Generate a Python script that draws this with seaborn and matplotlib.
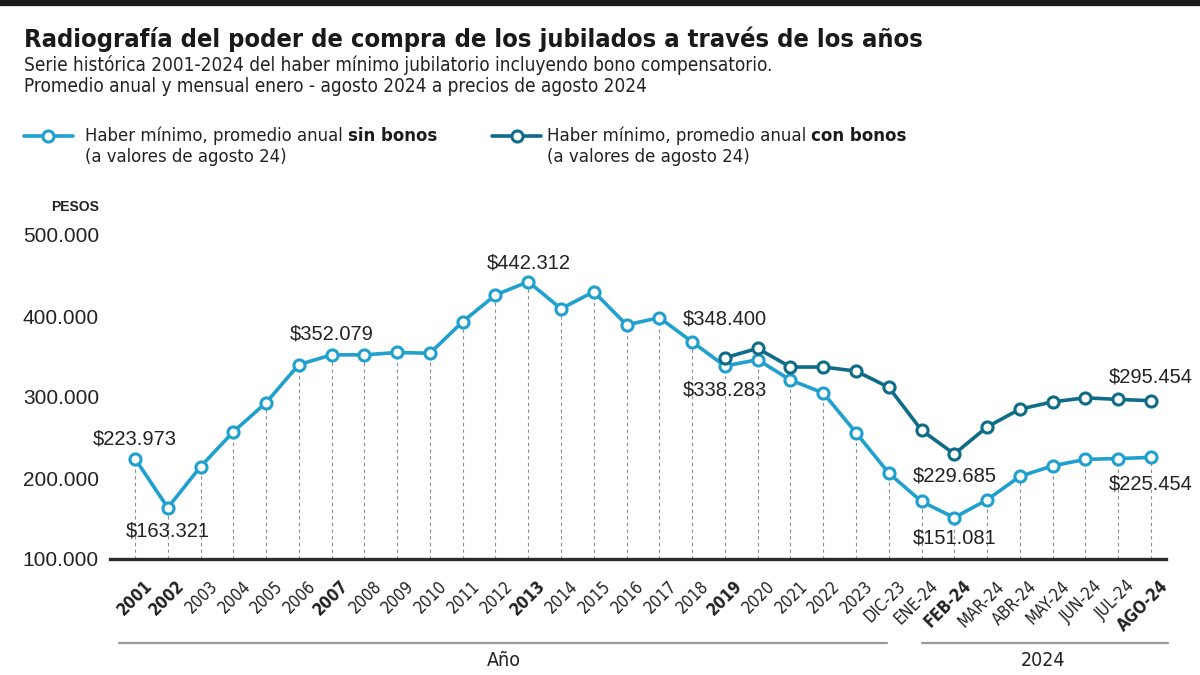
import numpy as np
import pandas as pd
import seaborn as sns
import matplotlib
matplotlib.use("Agg")
import matplotlib.pyplot as plt
from matplotlib import font_manager
from matplotlib.font_manager import FontProperties
from matplotlib.lines import Line2D
from matplotlib.transforms import ScaledTranslation

# datos
periodos = [str(a) for a in range(2001, 2024)] + ['DIC-23', 'ENE-24', 'FEB-24', 'MAR-24',
                                                  'ABR-24', 'MAY-24', 'JUN-24', 'JUL-24', 'AGO-24']
sin_bonos = [223973, 163321, 214000, 257000, 293000, 340000, 352079, 352000, 355000, 354000,
             393000, 426000, 442312, 409000, 430000, 389000, 398000, 368000, 338283, 346000,
             321000, 305000, 256000, 206000, 171000, 151081, 173000, 202000, 215000, 223000,
             224000, 225454]
con_bonos = [np.nan] * 18 + [348400, 360000, 337000, 337000, 332000, 312000, 259000, 229685,
                             263000, 285000, 294000, 299000, 297000, 295454]
en_negrita = ['2001', '2002', '2007', '2013', '2019', 'FEB-24', 'AGO-24']
y_ticks = [100000, 200000, 300000, 400000, 500000]

# etiquetas de valor: (indice, serie, texto, desplazamiento vertical en px)
etiquetas = [(0, 'sin', '$223.973', 20), (1, 'sin', '$163.321', -23),
             (6, 'sin', '$352.079', 21), (12, 'sin', '$442.312', 19),
             (18, 'con', '$348.400', 39), (18, 'sin', '$338.283', -24),
             (25, 'con', '$229.685', -22), (25, 'sin', '$151.081', -20),
             (31, 'con', '$295.454', 24), (31, 'sin', '$225.454', -27)]

C_SIN = '#1fa0cf'
C_CON = '#0f6c88'

sns.set_style('white')
BASE = 'Liberation Sans'
plt.rcParams['font.family'] = [BASE, 'DejaVu Sans']

# buscar una fuente condensada instalada (si la hay)
cond = {}
for f in font_manager.fontManager.ttflist:
    n = f.fname.lower()
    if ('condensed' in n or 'narrow' in n) and 'oblique' not in n and 'italic' not in n:
        w = 'bold' if (f.weight in ('bold', 700) or 'bold' in n) else 'normal'
        if 'light' in n or 'semibold' in n or 'extra' in n or 'black' in n or 'medium' in n:
            continue
        cond.setdefault(w, f.fname)


def fp(bold=False):
    w = 'bold' if bold else 'normal'
    if w in cond:
        return FontProperties(fname=cond[w])
    return FontProperties(family=BASE, weight=w)


df = pd.DataFrame({'x': np.arange(len(periodos)), 'sin': sin_bonos, 'con': con_bonos})

fig = plt.figure(figsize=(12, 6.75), dpi=100)
ax = fig.add_axes([110 / 1200, 116 / 675, 1056 / 1200, 340.2 / 675])

ax.vlines(df['x'], 100000, df['sin'], colors='#8c8c8c', linestyles=(0, (3, 3)), lw=0.8, zorder=1)

sns.lineplot(data=df, x='x', y='sin', ax=ax, color=C_SIN, lw=2.6, marker='o', ms=8,
             markerfacecolor='white', markeredgecolor=C_SIN, markeredgewidth=2.2, zorder=3)
sns.lineplot(data=df.dropna(), x='x', y='con', ax=ax, color=C_CON, lw=2.6, marker='o', ms=8,
             markerfacecolor='white', markeredgecolor=C_CON, markeredgewidth=2.2, zorder=4)

for i, serie, txt, dy in etiquetas:
    v = df.loc[i, serie]
    ax.annotate(txt, (i, v), xytext=(0, dy), textcoords='offset pixels', ha='center',
                va='center', fontsize=14.5, color='#222222', family=BASE)

ax.set_xlim(-0.763, 31.46)
ax.set_ylim(100000, 520000)
ax.set_xlabel('')
ax.set_ylabel('')
for s in ['top', 'right', 'left']:
    ax.spines[s].set_visible(False)
ax.spines['bottom'].set_color('#2a2a2a')
ax.spines['bottom'].set_linewidth(2.4)

ax.set_yticks(y_ticks)
ax.set_yticklabels([f'{v:,.0f}'.replace(',', '.') for v in y_ticks], fontsize=15, color='#222222')
ax.tick_params(axis='y', direction='in', length=8, width=1.6, color='#2a2a2a', pad=8)

ax.set_xticks(df['x'])
ax.set_xticklabels(periodos, rotation=45, ha='right', rotation_mode='anchor', color='#222222')
ax.tick_params(axis='x', length=0, pad=13)
off = ScaledTranslation(8 / 100, 0, fig.dpi_scale_trans)
fs_x = 12 if cond else 12
for lab in ax.get_xticklabels():
    lab.set_transform(lab.get_transform() + off)
    lab.set_fontproperties(fp(lab.get_text() in en_negrita))
    lab.set_fontsize(fs_x)

fig.text(99.5 / 1200, 1 - 207 / 675, 'PESOS', ha='right', va='center', fontsize=10,
         fontweight='bold', color='#222222')

renderer = fig.canvas.get_renderer()


def texto(x, y, s, size, bold=False, **kw):
    p = fp(bold)
    p.set_size(size)
    return fig.text(x / 1200, 1 - y / 675, s, fontproperties=p, va='center', **kw)


def ajustar(t, ancho):
    bb = t.get_window_extent(renderer)
    t.set_fontsize(t.get_fontsize() * ancho / bb.width)


# barra superior
fig.add_artist(Line2D([0, 1], [1 - 3 / 675] * 2, transform=fig.transFigure, color='#1a1a1a', lw=4.5))

t = texto(24, 39, 'Radiografía del poder de compra de los jubilados a través de los años', 22, True,
          ha='left', color='#1a1a1a')
ajustar(t, 897)
t = texto(24, 65, 'Serie histórica 2001-2024 del haber mínimo jubilatorio incluyendo bono compensatorio.',
          14, ha='left', color='#222222')
ajustar(t, 753)
fs_sub = t.get_fontsize()
texto(24, 87, 'Promedio anual y mensual enero - agosto 2024 a precios de agosto 2024', fs_sub,
      ha='left', color='#222222')

# leyenda
leyenda = [(24, 73, 85, 'sin bonos', C_SIN, 354), (492, 541, 547, 'con bonos', C_CON, 362)]
for x0, x1, xt, neg, col, ancho in leyenda:
    yl = 136
    fig.add_artist(Line2D([x0 / 1200, x1 / 1200], [1 - yl / 675] * 2, transform=fig.transFigure,
                          color=col, lw=2.6))
    fig.add_artist(Line2D([(x0 + x1) / 2400], [1 - yl / 675], transform=fig.transFigure, color=col,
                          lw=0, marker='o', ms=8, markerfacecolor='white', markeredgecolor=col,
                          markeredgewidth=2.2))
    fs = 14
    for paso in range(2):
        a = texto(xt, yl, 'Haber mínimo, promedio anual', fs, ha='left', color='#222222')
        wa = a.get_window_extent(renderer).width
        b = texto(xt + wa + 0.26 * fs * 100 / 72, yl, neg, fs, True, ha='left', color='#1a1a1a')
        total = b.get_window_extent(renderer).x1 - xt * 1.0
        if paso == 0:
            a.remove()
            b.remove()
            fs = fs * ancho / total
    texto(xt, 157, '(a valores de agosto 24)', fs, ha='left', color='#222222')

# llaves inferiores
for x0, x1 in [(119, 887), (922, 1168)]:
    fig.add_artist(Line2D([x0 / 1200, x1 / 1200], [1 - 643 / 675] * 2, transform=fig.transFigure,
                          color='#9a9a9a', lw=1.6))
fs_b = 14 if cond else 14
texto(503.5, 661, 'Año', fs_b, ha='center', color='#222222')
texto(1043, 661, '2024', fs_b, ha='center', color='#222222')

fig.savefig('out.png', dpi=100)
